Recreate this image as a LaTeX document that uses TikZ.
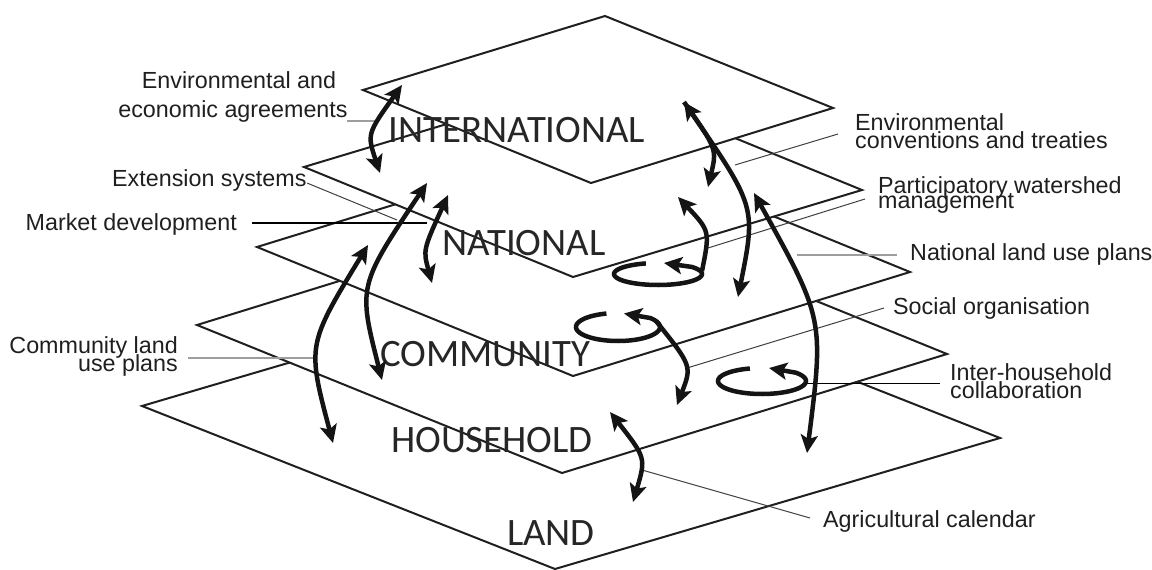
\documentclass[tikz,border=0pt]{standalone}
\usepackage{fontspec}
\setmainfont{Liberation Sans}
\newfontfamily\ttlfont{Carlito}
\usetikzlibrary{arrows.meta}
\tikzset{
  plane/.style={draw=black!88, line width=2pt, fill=white, line join=miter},
  ttl/.style={font=\ttlfont\fontsize{38.8}{40}\selectfont, anchor=base, inner sep=0pt, text=black!85},
  lbl/.style={font=\fontsize{23.3}{28}\selectfont, inner sep=0pt, text=black!88},
  leader/.style={line width=1pt, draw=black!75},
  gleader/.style={line width=2pt, draw=black!38},
  heavy/.style={line width=4.5pt, draw=black!92},
  tipend/.style={heavy, -{Stealth[length=18pt,width=17pt,inset=4pt]}},
  tipboth/.style={heavy, {Stealth[length=18pt,width=17pt,inset=4pt]}-{Stealth[length=18pt,width=17pt,inset=4pt]}},
}
\begin{document}
\begin{tikzpicture}[x=1pt,y=-1pt]
\useasboundingbox (0,0) rectangle (1152,570);
% ---------- plane corners (left, top, right, bottom)
\coordinate (La) at (142,406); \coordinate (Lb) at (587,275); \coordinate (Lc) at (1000,438); \coordinate (Ld) at (555,569);
\coordinate (Ha) at (197,325); \coordinate (Hb) at (582,206); \coordinate (Hc) at (947,354);  \coordinate (Hd) at (562,473);
\coordinate (Ca) at (257,247); \coordinate (Cb) at (594,143); \coordinate (Cc) at (910,272);  \coordinate (Cd) at (573,376);
\coordinate (Na) at (304,167); \coordinate (Nb) at (593,80);  \coordinate (Nc) at (862,190);  \coordinate (Nd) at (573,277);
\coordinate (Ia) at (363,90);  \coordinate (Ib) at (605,16);  \coordinate (Ic) at (833,108);  \coordinate (Id) at (591,183);
\draw[plane] (La) -- (Lb) -- (Lc) -- (Ld) -- cycle;
\draw[plane] (Ha) -- (Hb) -- (Hc) -- (Hd) -- cycle;
\draw[plane] (Ca) -- (Cb) -- (Cc) -- (Cd) -- cycle;
\draw[plane] (Na) -- (Nb) -- (Nc) -- (Nd) -- cycle;
\draw[plane] (Ia) -- (Ib) -- (Ic) -- (Id) -- cycle;
% ---------- level titles
\node[ttl] (tInt)  at (517,142) {INTERNATIONAL};
\node[ttl] (tNat)  at (524,255) {NATIONAL};
\node[ttl] (tCom)  at (485,366) {COMMUNITY};
\node[ttl] (tHou)  at (492,452) {HOUSEHOLD};
\node[ttl] (tLand) at (551,545) {LAND};
% ---------- labels
\node[lbl, anchor=base] (lEa) at (239,88) {Environmental and};
\node[lbl, anchor=base] (lEb) at (233,117) {economic agreements};
\node[lbl, anchor=base west] (lExt) at (112,186) {Extension systems};
\node[lbl, anchor=base east] (lMkt) at (237,230) {Market development};
\node[lbl, anchor=base east] (lCa) at (178,353) {Community land};
\node[lbl, anchor=base east] (lCb) at (178,371) {use plans};
\node[lbl, anchor=base west] (lTa) at (855,130) {Environmental};
\node[lbl, anchor=base west] (lTb) at (855,148) {conventions and treaties};
\node[lbl, anchor=base west] (lPa) at (878,193) {Participatory watershed};
\node[lbl, anchor=base west] (lPb) at (878,208) {management};
\node[lbl, anchor=base west] (lNl) at (910,260) {National land use plans};
\node[lbl, anchor=base west] (lSo) at (893,314) {Social organisation};
\node[lbl, anchor=base west] (lIa) at (950,380) {Inter-household};
\node[lbl, anchor=base west] (lIb) at (950,398) {collaboration};
\node[lbl, anchor=base west] (lAg) at (823,527) {Agricultural calendar};
% ---------- leader lines
\coordinate (e1) at (347,121); \coordinate (e2) at (378,121);
\coordinate (x1) at (307,183); \coordinate (x2) at (397,220);
\coordinate (m1) at (252,223); \coordinate (m2) at (427,223);
\coordinate (c1) at (188,358); \coordinate (c2) at (315,358);
\coordinate (t1) at (838,134); \coordinate (t2) at (735,165);
\coordinate (p1) at (865,199); \coordinate (p2) at (708,248);
\coordinate (n1) at (797,255); \coordinate (n2) at (897,255);
\coordinate (s1) at (884,308); \coordinate (s2) at (687,368);
\coordinate (i1) at (806,383); \coordinate (i2) at (940,383);
\coordinate (g1) at (642,470); \coordinate (g2) at (810,518);
\draw[gleader] (e1) -- (e2);
\draw[leader] (x1) -- (x2);
\draw[leader, line width=1.3pt, draw=black] (m1) -- (m2);
\draw[gleader] (c1) -- (c2);
\draw[leader] (t1) -- (t2);
\draw[leader] (p1) -- (p2);
\draw[gleader] (n1) -- (n2);
\draw[leader] (s1) -- (s2);
\draw[leader, draw=black] (i1) -- (i2);
\draw[leader] (g1) -- (g2);
% ---------- arrows
\coordinate (A1s) at (402,85);  \coordinate (A1c) at (367,134); \coordinate (A1e) at (380,173);
\coordinate (Bs) at (427,183);  \coordinate (Bc) at (358,286);  \coordinate (Be) at (382,380);
\coordinate (Cs) at (368,245);  \coordinate (Ccc) at (307,345); \coordinate (Ce) at (333,443);
\coordinate (Ds) at (448,195);  \coordinate (Dc) at (423,250);  \coordinate (De) at (432,283);
\coordinate (Es) at (684,102);  \coordinate (Ec1) at (717,149); \coordinate (Ee1) at (708,187);
\coordinate (Ec2) at (756,207); \coordinate (Ee2) at (738,297);
\coordinate (Fs) at (702,271);  \coordinate (Fc) at (710,231);  \coordinate (Fe) at (678,197);
\coordinate (Ks) at (656,321);  \coordinate (Kc) at (692,366);  \coordinate (Ke) at (677,405);
\coordinate (Gs) at (610,412);  \coordinate (Gc) at (646,458);  \coordinate (Ge) at (633,502);
\coordinate (Hs) at (754,193);  \coordinate (Hcc) at (824,319); \coordinate (He) at (807,453);
\draw[tipboth] (A1s) .. controls (A1c) .. (A1e);
\draw[tipboth] (Bs) .. controls (Bc) .. (Be);
\draw[tipboth] (Cs) .. controls (Ccc) .. (Ce);
\draw[tipboth] (Ds) .. controls (Dc) .. (De);
\draw[tipend] (Es) .. controls (Ec1) .. (Ee1);
\draw[tipboth] (Es) .. controls (Ec2) .. (Ee2);
\draw[tipend] (Fs) .. controls (Fc) .. (Fe);
\draw[tipend] (Ks) .. controls (Kc) .. (Ke);
\draw[tipboth] (Gs) .. controls (Gc) .. (Ge);
\draw[tipboth] (Hs) .. controls (Hcc) .. (He);
% ---------- swirls
\coordinate (S1t) at (664,263); \coordinate (S2t) at (624,313.5); \coordinate (S3t) at (769,368);
\draw[tipend] plot[domain=254:-40, samples=60, variable=\t] ({658+44*cos(\t)},{274+11*sin(\t)}) -- (S1t);
\draw[tipend] plot[domain=254:-40, samples=60, variable=\t] ({618+42*cos(\t)},{327+14*sin(\t)}) -- (S2t);
\draw[tipend] plot[domain=254:-40, samples=60, variable=\t] ({762+44*cos(\t)},{381+13*sin(\t)}) -- (S3t);
\end{tikzpicture}
\end{document}
